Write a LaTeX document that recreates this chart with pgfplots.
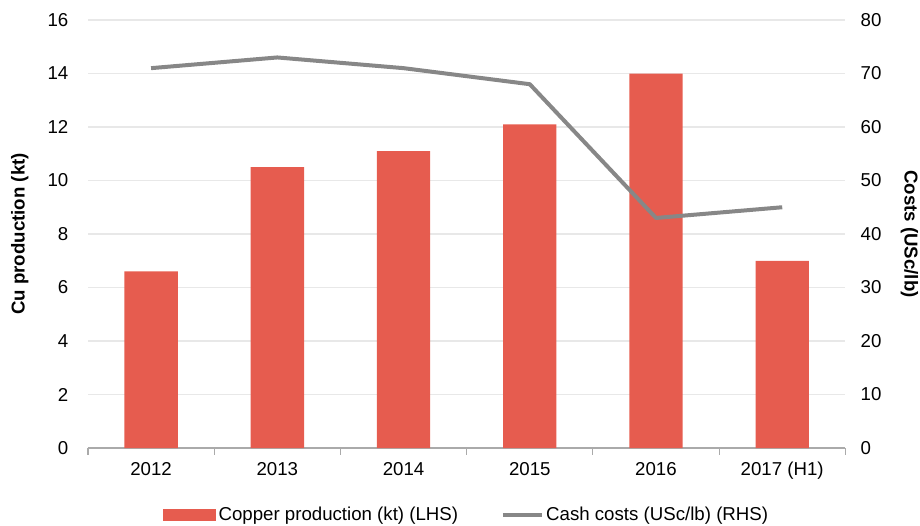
\documentclass[border=0pt]{standalone}
\usepackage{pgfplots}
\pgfplotsset{compat=1.18}
\usepackage{fontspec}
\setmainfont{Liberation Sans}
\usetikzlibrary{calc}
\definecolor{barred}{RGB}{230,92,79}
\definecolor{linegray}{RGB}{135,135,135}
\definecolor{gridgray}{RGB}{232,232,232}
\definecolor{axgray}{RGB}{170,170,170}
\begin{document}
\begin{tikzpicture}[font=\fontsize{14}{16}\selectfont]
\pgfplotsset{
  common/.style={
    scale only axis, width=568pt, height=321pt,
    xmin=-0.5, xmax=5.5,
    /pgf/number format/assume math mode=true,
    tick label style={font=\fontsize{14}{16}\selectfont, black},
    label style={font=\fontsize{14}{16}\selectfont\bfseries},
  }
}
\begin{axis}[common, name=ax,
  axis x line*=bottom, axis y line*=left,
  y axis line style={draw=none},
  x axis line style={draw=axgray, line width=0.8pt},
  ymin=0, ymax=16, ytick={0,2,...,16},
  ymajorgrids, grid style={gridgray, line width=0.8pt},
  ytick style={draw=none},
  xtick={0,...,5},
  xticklabels={2012,2013,2014,2015,2016,2017 (H1)},
  xtick style={draw=none},
  minor xtick={-0.5,0.5,...,5.5},
  minor tick length=5pt,
  minor x tick style={draw=axgray, line width=0.8pt},
  tick align=outside,
  xticklabel style={yshift=-3pt},
  yticklabel style={xshift=-7pt},
  ylabel={Cu production (kt)},
  ylabel style={at={(axis description cs:0,0.5)}, anchor=south, yshift=41pt},
]
\addplot[ybar, bar width=40pt, fill=barred, draw=none] coordinates {
 (0,6.6) (1,10.5) (2,11.1) (3,12.1) (4,14.0) (5,7.0)};
\end{axis}
\begin{axis}[common,
  axis x line=none, axis y line*=right,
  y axis line style={draw=none},
  ytick style={draw=none},
  ymin=0, ymax=80, ytick={0,10,...,80},
  yticklabel style={xshift=8pt},
  ylabel={Costs (USc/lb)},
  ylabel style={at={(axis description cs:1,0.5)}, anchor=south, rotate=180, yshift=38pt},
  legend columns=2,
  legend style={at={(0.5,-0.157)}, anchor=center, draw=none, fill=none,
    font=\fontsize{14}{16}\selectfont,
    /tikz/every even column/.append style={column sep=30pt}},
  legend cell align=left,
]
\addlegendimage{area legend, fill=barred, draw=none, legend image code/.code={\fill[barred] (0pt,-4.5pt) rectangle (40pt,4.5pt);}}
\addlegendentry{Copper production (kt) (LHS)}
\addplot[linegray, line width=3pt, line join=round, legend image code/.code={\draw[linegray, line width=3pt] (0pt,0pt) -- (29pt,0pt);}] coordinates {
 (0,71) (1,73) (2,71) (3,68) (4,43) (5,45)};
\addlegendentry{Cash costs (USc/lb) (RHS)}
\end{axis}
\pgfresetboundingbox
\path ($(ax.south west)+(-66pt,-58pt)$) rectangle ($(ax.north east)+(56pt,15pt)$);
\end{tikzpicture}
\end{document}
